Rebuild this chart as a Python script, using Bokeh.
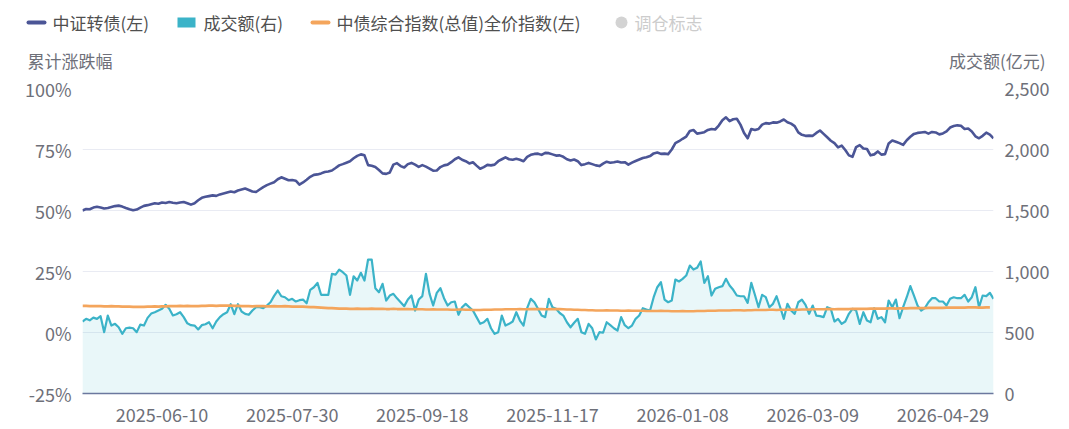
from bokeh.plotting import figure
from bokeh.layouts import column
from bokeh.models import (Range1d, LinearAxis, FixedTicker, ColumnDataSource,
                          NumeralTickFormatter)
from bokeh.core.properties import value
from bokeh.embed import file_html
from bokeh.resources import INLINE

# ---------------- data ----------------
x_tick_labels = ["2025-06-10", "2025-07-30", "2025-09-18", "2025-11-17",
                 "2026-01-08", "2026-03-09", "2026-04-29"]
x_tick_index = [22, 58, 94, 130, 166, 202, 238]

# 中证转债 cumulative change (%)
cb_index = [
    50.0, 50.6, 50.5, 51.2, 51.5, 51.2, 50.8, 51.0, 51.4, 51.8,
    52.0, 51.6, 51.0, 50.5, 50.1, 50.4, 51.2, 51.9, 52.2, 52.6,
    53.0, 52.8, 53.3, 53.1, 53.5, 53.2, 53.0, 53.3, 53.5, 53.0,
    52.4, 53.0, 54.2, 55.2, 55.6, 55.9, 56.2, 56.0, 56.6, 57.0,
    57.4, 57.8, 57.5, 58.2, 58.6, 59.0, 58.4, 57.8, 57.6, 58.6,
    59.6, 60.4, 61.0, 61.6, 62.8, 63.6, 63.0, 62.4, 62.5, 62.2,
    60.6, 61.5, 62.6, 63.8, 64.6, 64.8, 65.2, 65.8, 66.0, 66.4,
    67.4, 68.5, 69.0, 69.6, 70.2, 71.4, 72.4, 73.0, 72.6, 68.6,
    68.3, 67.8, 66.6, 65.2, 65.0, 65.6, 68.8, 69.4, 68.2, 67.6,
    69.0, 69.5, 68.8, 67.9, 68.6, 68.0, 67.2, 66.3, 66.4, 67.8,
    68.5, 68.8, 69.8, 71.0, 71.8, 70.8, 70.2, 69.3, 69.8, 68.4,
    67.1, 67.8, 68.7, 68.5, 68.8, 70.2, 71.0, 71.8, 71.0, 70.8,
    71.2, 70.8, 70.2, 72.0, 72.8, 73.2, 73.3, 72.8, 73.6, 73.5,
    73.0, 72.5, 72.6, 72.0, 71.0, 70.5, 70.9, 70.2, 68.6, 69.0,
    69.5, 69.0, 68.5, 68.2, 69.2, 70.0, 69.6, 69.8, 70.1, 69.7,
    69.8, 68.8, 69.6, 70.3, 70.9, 71.5, 71.8, 72.3, 73.4, 73.8,
    73.2, 73.3, 73.1, 75.0, 77.6, 78.4, 79.4, 80.3, 82.6, 83.0,
    81.5, 81.8, 82.1, 83.0, 83.4, 83.2, 84.8, 87.0, 88.2, 86.6,
    87.4, 87.6, 85.2, 81.8, 79.6, 83.4, 83.0, 83.4, 85.2, 85.8,
    85.6, 86.1, 86.0, 86.5, 87.3, 86.2, 85.6, 84.6, 82.0, 81.0,
    80.6, 80.7, 80.6, 81.8, 82.8, 81.4, 80.0, 78.6, 77.6, 75.9,
    76.6, 74.8, 72.6, 72.0, 76.0, 76.8, 75.4, 75.2, 72.6, 73.0,
    74.2, 72.9, 73.1, 77.5, 78.7, 78.2, 77.6, 76.9, 78.8, 80.2,
    81.4, 81.8, 82.0, 82.2, 81.5, 82.2, 82.0, 81.2, 81.6, 82.4,
    84.0, 84.6, 84.9, 84.7, 83.4, 83.6, 82.4, 80.4, 79.6, 80.6,
    81.9, 81.1, 79.6,
]

# 成交额 (亿元)
turnover = [
    590, 612, 600, 622, 612, 634, 503, 639, 557, 571,
    543, 489, 535, 540, 535, 503, 565, 557, 620, 655,
    666, 680, 694, 727, 694, 640, 650, 666, 626, 575,
    560, 557, 525, 560, 568, 584, 535, 590, 626, 650,
    666, 732, 650, 732, 672, 653, 645, 680, 707, 707,
    699, 720, 748, 800, 844, 797, 789, 765, 776, 754,
    765, 770, 740, 850, 871, 907, 809, 809, 809, 981,
    975, 1016, 994, 967, 809, 961, 926, 989, 926, 1098,
    1098, 863, 830, 899, 762, 803, 817, 780, 748, 716,
    770, 803, 680, 770, 798, 981, 817, 721, 825, 863,
    781, 721, 748, 754, 645, 707, 735, 707, 680, 626,
    571, 584, 612, 535, 489, 503, 639, 557, 571, 590,
    666, 598, 557, 700, 776, 748, 694, 639, 626, 776,
    707, 694, 660, 639, 584, 543, 580, 612, 503, 489,
    571, 535, 443, 503, 498, 584, 560, 535, 516, 626,
    560, 535, 557, 612, 639, 699, 689, 680, 789, 871,
    912, 770, 748, 762, 934, 918, 940, 967, 1049, 1016,
    1030, 1082, 907, 961, 803, 858, 871, 880, 940, 885,
    850, 803, 797, 797, 743, 907, 809, 707, 809, 790,
    707, 735, 797, 707, 612, 735, 680, 653, 748, 770,
    727, 653, 721, 639, 634, 626, 707, 694, 590, 612,
    571, 590, 653, 694, 680, 571, 666, 598, 584, 699,
    612, 626, 584, 762, 707, 770, 617, 707, 789, 880,
    803, 721, 680, 700, 748, 781, 781, 754, 754, 721,
    776, 789, 781, 781, 809, 754, 789, 871, 707, 803,
    798, 825, 776,
]

# 中债综合指数(总值)全价指数 cumulative change (%)
bond_index = [
    10.9, 10.9, 10.8, 10.8, 10.8, 10.8, 10.7, 10.7, 10.8, 10.7,
    10.7, 10.6, 10.6, 10.6, 10.5, 10.5, 10.5, 10.5, 10.6, 10.6,
    10.7, 10.6, 10.7, 10.7, 10.8, 10.8, 10.8, 10.9, 10.8, 10.9,
    10.8, 10.8, 10.8, 10.9, 10.9, 11.0, 11.0, 10.9, 11.0, 11.0,
    11.0, 11.0, 10.9, 10.9, 10.8, 10.8, 10.8, 10.7, 10.8, 10.8,
    10.8, 10.7, 10.7, 10.8, 10.7, 10.7, 10.8, 10.7, 10.6, 10.6,
    10.6, 10.6, 10.5, 10.4, 10.4, 10.3, 10.2, 10.1, 10.0, 10.0,
    9.9, 9.8, 9.8, 9.8, 9.7, 9.7, 9.8, 9.7, 9.7, 9.7,
    9.8, 9.7, 9.7, 9.7, 9.6, 9.6, 9.7, 9.6, 9.6, 9.6,
    9.6, 9.5, 9.5, 9.5, 9.5, 9.4, 9.4, 9.5, 9.4, 9.4,
    9.4, 9.4, 9.3, 9.3, 9.4, 9.4, 9.3, 9.3, 9.2, 9.2,
    9.2, 9.3, 9.3, 9.3, 9.4, 9.4, 9.4, 9.5, 9.5, 9.5,
    9.5, 9.6, 9.5, 9.5, 9.6, 9.6, 9.6, 9.6, 9.5, 9.5,
    9.6, 9.6, 9.6, 9.5, 9.4, 9.4, 9.3, 9.3, 9.2, 9.2,
    9.1, 9.1, 9.0, 9.0, 9.0, 9.1, 9.0, 9.0, 9.0, 8.9,
    8.9, 9.0, 8.9, 8.9, 8.9, 8.9, 8.8, 8.8, 8.8, 8.8,
    8.9, 8.8, 8.8, 8.7, 8.7, 8.7, 8.8, 8.7, 8.7, 8.7,
    8.8, 8.8, 8.8, 8.9, 8.9, 8.9, 9.0, 9.0, 9.0, 9.0,
    9.1, 9.1, 9.1, 9.0, 9.1, 9.1, 9.2, 9.2, 9.2, 9.2,
    9.3, 9.3, 9.2, 9.3, 9.3, 9.3, 9.4, 9.3, 9.3, 9.4,
    9.4, 9.4, 9.5, 9.5, 9.5, 9.5, 9.6, 9.6, 9.5, 9.6,
    9.6, 9.6, 9.6, 9.7, 9.7, 9.7, 9.7, 9.7, 9.8, 9.8,
    9.8, 9.8, 9.8, 9.9, 9.9, 9.8, 9.9, 9.9, 9.9, 10.0,
    10.0, 10.0, 10.0, 10.0, 10.1, 10.1, 10.1, 10.1, 10.1, 10.2,
    10.2, 10.2, 10.2, 10.2, 10.2, 10.3, 10.3, 10.3, 10.2, 10.2,
    10.3, 10.3,
]

left_ticks = [-25, 0, 25, 50, 75, 100]
right_ticks = [0, 500, 1000, 1500, 2000, 2500]

legend_names = ["中证转债(左)", "成交额(右)", "中债综合指数(总值)全价指数(左)", "调仓标志"]
left_axis_name = "累计涨跌幅"
right_axis_name = "成交额(亿元)"

# ---------------- styling ----------------
FONT = "Noto Sans CJK SC"
NAVY = "#4b5596"
TEAL = "#3bb3c8"
ORANGE = "#f4a55c"
TICK_COLOR = "#6e7079"
LEGEND_COLOR = "#4f4f4f"
GRID = "#e9ebf3"

W = 1069
HEAD_H = 72                       # header strip (legend + axis names)
FL, FR = 82, 993                  # frame edges on canvas
FT_CANVAS, FB_CANVAS = 88, 393
MAIN_H = 429 - HEAD_H
TOP_BORDER = FT_CANVAS - HEAD_H
BOTTOM_BORDER = 429 - FB_CANVAS

# ---------------- header figure ----------------
h = figure(width=W, height=HEAD_H, output_backend="svg", toolbar_location=None,
           x_range=Range1d(0, W), y_range=Range1d(HEAD_H, 0),
           min_border=0, min_border_left=0, min_border_right=0,
           min_border_top=0, min_border_bottom=0)
h.frame_align = False
h.axis.visible = False
h.grid.visible = False
h.outline_line_color = None
h.background_fill_color = "white"
h.border_fill_color = "white"

LY = 22
h.segment(x0=[28], y0=[LY], x1=[44], y1=[LY], line_color=NAVY, line_width=4,
          line_cap="round")
h.quad(left=[177], right=[195], top=[LY - 5], bottom=[LY + 5],
       fill_color=TEAL, line_color=None)
h.segment(x0=[312], y0=[LY], x1=[328], y1=[LY], line_color=ORANGE, line_width=4,
          line_cap="round")
h.scatter(x=[621], y=[LY], size=12, marker="circle", fill_color="#d3d3d3",
          line_color=None)

h.text(x=[52, 203, 336], y=[LY] * 3, text=legend_names[:3],
       text_font=value(FONT), text_font_size="17px", text_color=LEGEND_COLOR,
       text_align="left", text_baseline="middle")
h.text(x=[634], y=[LY], text=[legend_names[3]],
       text_font=value(FONT), text_font_size="17px", text_color="#cccccc",
       text_align="left", text_baseline="middle")
h.text(x=[27], y=[60], text=[left_axis_name],
       text_font=value(FONT), text_font_size="17px", text_color=TICK_COLOR,
       text_align="left", text_baseline="middle")
h.text(x=[1045], y=[60], text=[right_axis_name],
       text_font=value(FONT), text_font_size="17px", text_color=TICK_COLOR,
       text_align="right", text_baseline="middle")

# ---------------- main figure ----------------
n = len(cb_index)
xs = list(range(n))

p = figure(width=W, height=MAIN_H, output_backend="svg", toolbar_location=None,
           x_range=Range1d(0, n - 1), y_range=Range1d(-25, 100),
           min_border_left=FL, min_border_right=W - FR,
           min_border_top=TOP_BORDER, min_border_bottom=BOTTOM_BORDER)
p.frame_align = False
p.extra_y_ranges = {"right": Range1d(0, 2500)}
p.outline_line_color = None
p.background_fill_color = "white"
p.border_fill_color = "white"

p.xgrid.visible = False
p.ygrid.ticker = FixedTicker(ticks=left_ticks)
p.ygrid.grid_line_color = GRID
p.ygrid.grid_line_width = 1

xa = p.xaxis[0]
xa.ticker = FixedTicker(ticks=x_tick_index)
xa.major_label_overrides = {i: s for i, s in zip(x_tick_index, x_tick_labels)}
xa.axis_line_color = "#6b789e"
xa.axis_line_width = 1.5
xa.major_tick_line_color = None
xa.minor_tick_line_color = None
xa.major_label_text_font = FONT
xa.major_label_text_font_size = "18px"
xa.major_label_text_color = TICK_COLOR
xa.major_label_standoff = 8

ya = p.yaxis[0]
ya.ticker = FixedTicker(ticks=left_ticks)
ya.major_label_overrides = {t: f"{t}%" for t in left_ticks}
ya.axis_line_color = None
ya.major_tick_line_color = None
ya.minor_tick_line_color = None
ya.major_label_text_font = FONT
ya.major_label_text_font_size = "18px"
ya.major_label_text_color = TICK_COLOR
ya.major_label_standoff = 5

ra = LinearAxis(y_range_name="right", ticker=FixedTicker(ticks=right_ticks),
                formatter=NumeralTickFormatter(format="0,0"))
ra.axis_line_color = None
ra.major_tick_line_color = None
ra.minor_tick_line_color = None
ra.major_label_text_font = FONT
ra.major_label_text_font_size = "18px"
ra.major_label_text_color = TICK_COLOR
ra.major_label_standoff = 5
p.add_layout(ra, "right")

src = ColumnDataSource(dict(x=xs, cb=cb_index, tv=turnover, zero=[0] * n))
p.varea(x="x", y1="zero", y2="tv", source=src, y_range_name="right",
        fill_color=TEAL, fill_alpha=0.11)
p.line(x="x", y="tv", source=src, y_range_name="right",
       line_color=TEAL, line_width=2.2, line_join="round")
bsrc = ColumnDataSource(dict(x=list(range(len(bond_index))), y=bond_index))
p.line(x="x", y="y", source=bsrc, line_color=ORANGE, line_width=2.6,
       line_join="round")
p.line(x="x", y="cb", source=src, line_color=NAVY, line_width=2.6,
       line_join="round")

layout = column(h, p, spacing=0)
open("out.html", "w").write(file_html(layout, INLINE))
